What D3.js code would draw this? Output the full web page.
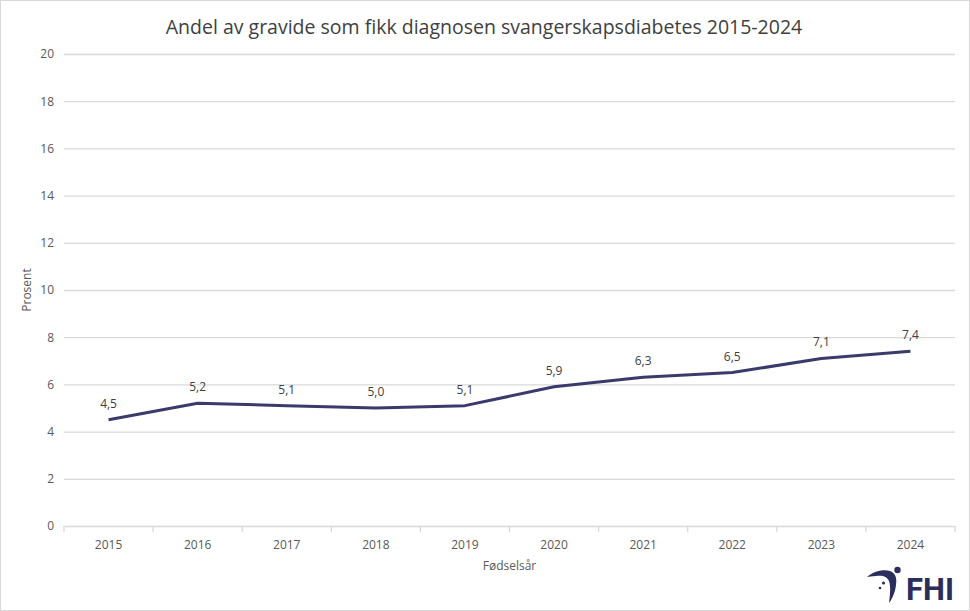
<!DOCTYPE html>
<html>
<head>
<meta charset="utf-8">
<script src="https://cdn.jsdelivr.net/npm/d3@7"></script>
<style>
  body { margin: 0; background: #fff; }
  svg { display: block; }
</style>
</head>
<body>
<div id="chart"></div>
<script>
// data
const years = ['2015', '2016', '2017', '2018', '2019', '2020', '2021', '2022', '2023', '2024'];
const values = [4.5, 5.2, 5.1, 5.0, 5.1, 5.9, 6.3, 6.5, 7.1, 7.4];
const yTicks = [0, 2, 4, 6, 8, 10, 12, 14, 16, 18, 20];

const w = 970, h = 611;
const m = { top: 54, right: 15, bottom: 85, left: 64 };
const font = '"Open Sans", "Noto Sans", sans-serif';
const lineColor = '#3a3a6c';
const textColor = '#595959';
const gridColor = '#d9d9d9';

const svg = d3.select('#chart')
    .append('svg')
    .attr('width', w)
    .attr('height', h)
    .style('font-family', font);

svg.append('rect')
    .attr('x', 0.5).attr('y', 0.5)
    .attr('width', w - 1).attr('height', h - 1)
    .style('fill', '#fff')
    .style('stroke', '#d9d9d9');

const x = d3.scaleBand()
    .domain(years)
    .range([m.left, w - m.right]);

const y = d3.scaleLinear()
    .domain([0, 20])
    .range([h - m.bottom, m.top]);

// title
svg.append('text')
    .attr('x', 484)
    .attr('y', 34)
    .attr('text-anchor', 'middle')
    .style('font-size', '19.5px')
    .style('fill', '#404040')
    .text('Andel av gravide som fikk diagnosen svangerskapsdiabetes 2015-2024');

// gridlines + y labels
const yAxis = svg.append('g')
    .attr('transform', `translate(${m.left},0)`)
    .call(d3.axisLeft(y).tickValues(yTicks).tickSize(-(w - m.left - m.right)).tickPadding(10));
yAxis.select('.domain').remove();
yAxis.selectAll('.tick line')
    .style('stroke', gridColor)
    .style('stroke-width', 1.3)
    .filter(d => d === 0).remove();
yAxis.selectAll('.tick text')
    .style('font-family', font)
    .style('font-size', '12px')
    .style('fill', textColor);

// x axis
const xAxis = svg.append('g')
    .attr('transform', `translate(0,${y(0)})`)
    .call(d3.axisBottom(x).tickSize(0).tickPadding(14));
xAxis.select('.domain')
    .style('stroke', gridColor)
    .style('stroke-width', 1.3);
xAxis.selectAll('.tick text')
    .style('font-family', font)
    .style('font-size', '12px')
    .style('fill', textColor);

// tick marks at band edges
const edges = years.map(d => x(d)).concat([x(years[years.length - 1]) + x.bandwidth()]);
svg.append('g')
    .selectAll('line')
    .data(edges)
    .join('line')
    .attr('x1', d => d).attr('x2', d => d)
    .attr('y1', y(0)).attr('y2', y(0) + 6)
    .style('stroke', gridColor)
    .style('stroke-width', 1.3);

// axis titles
svg.append('text')
    .attr('transform', `translate(31,${(y(0) + y(20)) / 2}) rotate(-90)`)
    .attr('text-anchor', 'middle')
    .style('font-size', '12px')
    .style('fill', textColor)
    .text('Prosent');

svg.append('text')
    .attr('x', (m.left + w - m.right) / 2)
    .attr('y', 570)
    .attr('text-anchor', 'middle')
    .style('font-size', '12px')
    .style('fill', textColor)
    .text('Fødselsår');

// line
const cx = d => x(d) + x.bandwidth() / 2;
const line = d3.line()
    .x((d, i) => cx(years[i]))
    .y(d => y(d));

svg.append('path')
    .datum(values)
    .attr('d', line)
    .style('fill', 'none')
    .style('stroke', lineColor)
    .style('stroke-width', 3)
    .style('stroke-linejoin', 'round');

// data labels
svg.append('g')
    .selectAll('text')
    .data(values)
    .join('text')
    .attr('x', (d, i) => cx(years[i]))
    .attr('y', d => y(d) - 12)
    .attr('text-anchor', 'middle')
    .style('font-size', '12px')
    .style('fill', '#404040')
    .text(d => d3.format('.1f')(d).replace('.', ','));

// FHI logo
const logo = svg.append('g')
    .attr('transform', 'translate(860,555)')
    .style('fill', '#2b2d5c');
logo.append('path')
    .attr('d', 'M7,22 C13,17 22,14 30,16 C36,18 37,24 36,30 C35,38 32,44 29,48 C30,40 31,32 29,26 C27,21 22,20 16,21 C12,21 9,22 7,22 Z');
logo.append('circle').attr('cx', 37.5).attr('cy', 15).attr('r', 3.2);
logo.append('circle').attr('cx', 23.5).attr('cy', 28).attr('r', 1.6);
logo.append('circle').attr('cx', 20).attr('cy', 33).attr('r', 1.3);
logo.append('text')
    .attr('x', 46)
    .attr('y', 45)
    .style('font-family', '"Roboto", "Liberation Sans", sans-serif')
    .style('font-weight', 'bold')
    .style('font-size', '31px')
    .text('FHI');
</script>
</body>
</html>
